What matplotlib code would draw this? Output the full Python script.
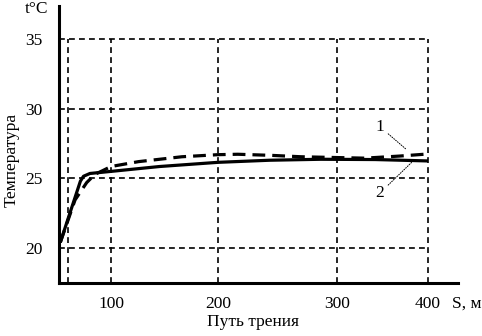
"""Temperature vs. friction path, two curves (1 dashed, 2 solid)."""

import matplotlib as mpl
import matplotlib.pyplot as plt
import numpy as np

# ---------------------------------------------------------------- data ----
# curve 1 (dashed)
s_curve1 = [52.6, 66.4, 77.3, 85.2, 92.1, 100, 125.7, 166.2, 200, 216.6,
            245, 270, 296.5, 330.3, 368.7, 400]
t_curve1 = [20.4, 23.45, 24.7, 25.3, 25.55, 25.85, 26.2, 26.55, 26.7, 26.73,
            26.65, 26.55, 26.5, 26.45, 26.6, 26.75]

# curve 2 (solid)
s_curve2 = [52.6, 71.4, 74.3, 80.3, 100, 145.4, 200, 243.3, 286.3, 342, 400]
t_curve2 = [20.4, 24.8, 25.15, 25.35, 25.5, 25.85, 26.15, 26.3, 26.37, 26.35, 26.25]

x_ticks = [100, 200, 300, 400]
x_grid = [60, 100, 200, 300, 400]
y_ticks = [20, 25, 30, 35]

# the original drawing has unevenly spaced distance ticks; reproduce them
# with a piecewise-linear axis scale
S_ANCHOR = [0, 100, 200, 300, 400, 500]
U_ANCHOR = [4, 111, 218, 337, 428, 519]


def s_forward(s):
    return np.interp(s, S_ANCHOR, U_ANCHOR)


def s_inverse(u):
    return np.interp(u, U_ANCHOR, S_ANCHOR)


# ---------------------------------------------------------------- style ----
mpl.rcParams.update({
    "font.family": "Liberation Serif",
    "font.size": 12.5,
    "text.color": "black",
})

X_MIN, X_MAX = 51.4, 433.0
Y_MIN, Y_MAX = 17.49, 37.37

fig = plt.figure(figsize=(4.82, 3.36), dpi=100)
ax = fig.add_axes([59 / 482, 53 / 336, 399 / 482, 277 / 336])
ax.set_xscale("function", functions=(s_forward, s_inverse))
ax.set_xlim(X_MIN, X_MAX)
ax.set_ylim(Y_MIN, Y_MAX)

for side in ("top", "right"):
    ax.spines[side].set_visible(False)
for side in ("left", "bottom"):
    ax.spines[side].set_linewidth(2.2)

# grid box, clipped at S=400 and T=35
grid_kw = dict(color="black", linewidth=1.2, linestyles=(0, (3.5, 2.5)))
ax.hlines(y_ticks, X_MIN, x_grid[-1], **grid_kw)
ax.vlines(x_grid, Y_MIN, y_ticks[-1], **grid_kw)

ax.plot(s_curve2, t_curve2, color="black", linewidth=2.3, solid_capstyle="butt")
ax.plot(s_curve1, t_curve1, color="black", linewidth=2.3, linestyle=(0, (4, 2.2)))

ax.set_xticks(x_ticks)
ax.set_xticklabels([str(v) for v in x_ticks])
ax.xaxis.set_minor_locator(mpl.ticker.NullLocator())
ax.set_yticks(y_ticks)
ax.tick_params(axis="both", length=0)
ax.tick_params(axis="x", pad=9)
ax.tick_params(axis="y", pad=12)

# curve labels with thin leader lines
lead = dict(arrowstyle="-", linestyle=(0, (1, 1.5)), linewidth=0.7, color="black",
            shrinkA=1, shrinkB=0)
ax.annotate("1", xy=(375.8, 27.1), xytext=(347.3, 28.7),
            ha="center", va="center", arrowprops=lead)
ax.annotate("2", xy=(382.4, 26.17), xytext=(347.3, 23.95),
            ha="center", va="center", arrowprops=lead)

fig.text(37 / 482, 1 - 9 / 336, "t°C", ha="center", va="center")
fig.text(12 / 482, 1 - 160 / 336, "Температура", rotation=90,
         ha="center", va="center")
fig.text(452 / 482, 1 - 304 / 336, "S, м", ha="left", va="center")
fig.text(253 / 482, 1 - 322 / 336, "Путь трения", ha="center", va="center")

fig.savefig("out.png", dpi=100)
plt.close(fig)
